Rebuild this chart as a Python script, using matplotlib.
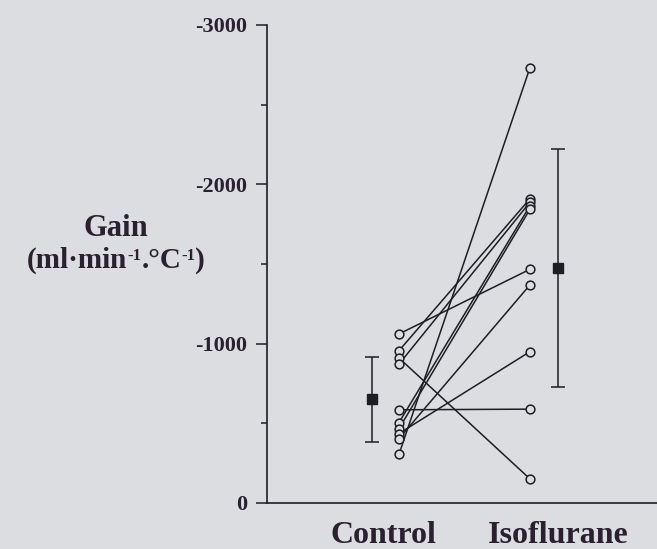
import matplotlib
matplotlib.use("Agg")
import matplotlib.pyplot as plt
import numpy as np

# ---- data (gain, ml·min-1·°C-1; plotted as negative values) ----
categories = ["Control", "Isoflurane"]
control_vals = [-1061, -956, -910, -872, -585, -505, -467, -436, -404, -306]
isoflurane_vals = [-1467, -1910, -151, -1888, -589, -1866, -1844, -950, -1369, -2733]
mean_vals = [-650, -1476]
sd_vals = [268, 746]
yticks = [0, -1000, -2000, -3000]
ytick_labels = ["0", "-1000", "-2000", "-3000"]
minor_yticks = [-500, -1500, -2500]

bg = "#dcdde1"
ink = "#1f1d24"
txt = "#2a2030"
serif = ["Liberation Serif", "DejaVu Serif"]

plt.rcParams["font.family"] = serif
plt.rcParams["axes.unicode_minus"] = False

fig = plt.figure(figsize=(6.57, 5.49), dpi=100, facecolor=bg)
ax = fig.add_axes([267/657, 46/549, 1 - 267/657, (503-25)/549])
ax.set_facecolor(bg)

x_ctrl, x_iso = 1.0, 2.0
x_ctrl_mean, x_iso_mean = 0.795, 2.214

for c, i in zip(control_vals, isoflurane_vals):
    ax.plot([x_ctrl, x_iso], [c, i], color=ink, lw=1.1, zorder=2)
ax.plot([x_ctrl]*len(control_vals), control_vals, "o", ms=6.3, mfc=bg, mec=ink, mew=1.1, ls="none", zorder=3)
ax.plot([x_iso]*len(isoflurane_vals), isoflurane_vals, "o", ms=6.3, mfc=bg, mec=ink, mew=1.1, ls="none", zorder=3)

ax.errorbar([x_ctrl_mean, x_iso_mean], mean_vals, yerr=sd_vals, fmt="s", ms=7.5,
            color=ink, mfc=ink, mec=ink, ecolor=ink, elinewidth=1.1, capsize=5, capthick=1.1, zorder=3)

ax.set_xlim(1 - 132/131, 2 + 127/131)
ax.set_ylim(0, -3000)

for s in ["top", "right"]:
    ax.spines[s].set_visible(False)
for s in ["left", "bottom"]:
    ax.spines[s].set_color(ink)
    ax.spines[s].set_linewidth(1.2)

ax.set_yticks(yticks)
ax.set_yticklabels(ytick_labels, fontsize=16, fontweight="bold", color=txt)
ax.set_yticks(minor_yticks, minor=True)
ax.tick_params(axis="y", which="major", length=8, width=1.1, color=ink, pad=6)
ax.tick_params(axis="y", which="minor", length=4, width=1.1, color=ink)

ax.set_xticks([(383-267)/131 + (1 - 132/131), (558-267)/131 + (1 - 132/131)])
ax.set_xticklabels(categories, fontsize=23, fontweight="bold", color=txt)
ax.tick_params(axis="x", length=0, pad=13)

fig.text(116/657, 1 - 228/549, "Gain", ha="center", va="center", fontsize=22,
         fontweight="bold", color=txt)

# unit label built from pieces so the superscripts use a plain hyphen
pieces = [("(ml·min", 21, 0), ("-1", 12, 8), (".°C", 21, 0), ("-1", 12, 8), (")", 21, 0)]
renderer = fig.canvas.get_renderer()
x0_px = 13
y_base = 549 - 268
texts = []
x_px = x0_px
for s, fs, dy in pieces:
    t = fig.text(x_px/657, (y_base + dy)/549, s, ha="left", va="baseline",
                 fontsize=fs, fontweight="bold", color=txt)
    bb = t.get_window_extent(renderer=renderer)
    x_px += bb.width
    texts.append(t)
total = x_px - x0_px
shift = (116 - total/2) - x0_px
for t in texts:
    px, py = t.get_position()
    t.set_position((px + shift/657, py))

fig.savefig("out.png", dpi=100, facecolor=bg)
